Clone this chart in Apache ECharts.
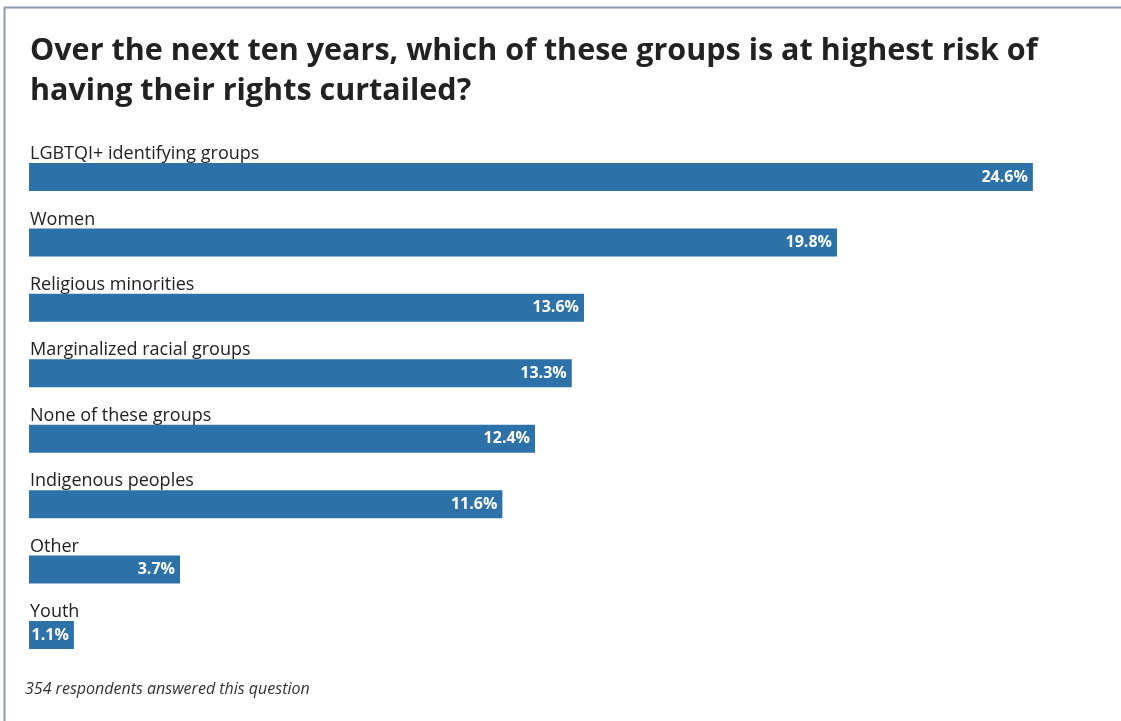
<!DOCTYPE html>
<html>
<head>
<meta charset="utf-8">
<title>Rights at risk</title>
<script src="https://cdn.jsdelivr.net/npm/echarts@6/dist/echarts.min.js"></script>
<style>
  html, body { margin: 0; padding: 0; background: #ffffff; }
  #chart { width: 1121px; height: 721px; }
</style>
</head>
<body>
<div id="chart"></div>
<script>
// Survey groups, top to bottom
const groups = [
  'LGBTQI+ identifying groups',
  'Women',
  'Religious minorities',
  'Marginalized racial groups',
  'None of these groups',
  'Indigenous peoples',
  'Other',
  'Youth'
];
// Share of respondents choosing each group (%)
const shares = [24.6, 19.8, 13.6, 13.3, 12.4, 11.6, 3.7, 1.1];

const titleText = 'Over the next ten years, which of these groups is at highest risk of\nhaving their rights curtailed?';
const footnote = '354 respondents answered this question';

const FONT = '"Open Sans", Lato, sans-serif';
const BAR = '#2d71a9';

const chart = echarts.init(document.getElementById('chart'), null, { renderer: 'canvas' });

chart.setOption({
  backgroundColor: '#ffffff',
  animation: false,
  title: {
    text: titleText,
    left: 25,
    top: 26,
    textStyle: {
      fontFamily: FONT,
      fontSize: 30.5,
      fontWeight: 'bold',
      color: '#222222',
      lineHeight: 40
    }
  },
  grid: {
    left: 29,
    right: 31,
    top: 144.3,
    bottom: 53.3,
    containLabel: false
  },
  xAxis: {
    type: 'value',
    min: 0,
    max: 26,
    show: false
  },
  yAxis: {
    type: 'category',
    data: groups,
    inverse: true,
    axisLine: { show: false },
    axisTick: { show: false },
    splitLine: { show: false },
    axisLabel: {
      inside: true,
      margin: 1,
      align: 'left',
      verticalAlign: 'bottom',
      padding: [0, 0, 14, 0],
      fontFamily: FONT,
      fontSize: 18,
      color: '#222222'
    }
  },
  series: [{
    type: 'bar',
    data: shares,
    barWidth: 28,
    itemStyle: { color: BAR },
    label: {
      show: true,
      position: 'insideRight',
      distance: 5,
      formatter: p => p.value.toFixed(1) + '%',
      fontFamily: FONT,
      fontSize: 16,
      fontWeight: 'bold',
      color: '#ffffff'
    }
  }],
  graphic: [
    {
      type: 'polyline',
      shape: { points: [[4.5, 721], [4.5, 7.5], [1121, 7.5]] },
      style: { stroke: '#8a9bb1', lineWidth: 2, fill: null }
    },
    {
      type: 'text',
      left: 25,
      top: 681,
      style: {
        text: footnote,
        fontFamily: FONT,
        fontSize: 16,
        fontStyle: 'italic',
        fill: '#333333'
      }
    }
  ]
});
</script>
</body>
</html>
